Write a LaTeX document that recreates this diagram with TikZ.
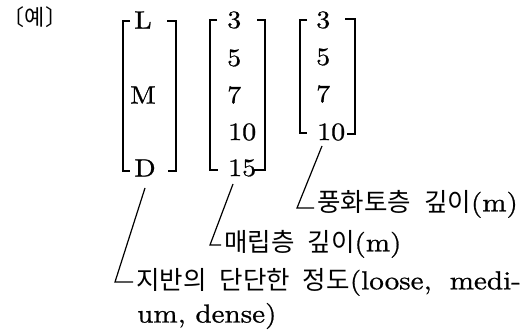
\documentclass[tikz,border=0pt]{standalone}
\usepackage{fontspec}
\newfontfamily\kr{Noto Sans CJK KR}
\newfontfamily\latwide{lmroman10-regular.otf}[FakeStretch=1.12,FakeBold=0.8]
\newcommand\lat{\latwide\fontsize{25}{30}\selectfont}
\newcommand\latl{\latwide\fontsize{26}{30}\selectfont}
\newcommand\krt{\kr\fontsize{25.5}{28}\selectfont}
\newcommand\ks{\hspace{13pt}}
\begin{document}
\begin{tikzpicture}[x=1pt,y=-1pt,
  br/.style={line width=1.4pt},
  ptr/.style={line width=1.2pt},
  letr/.style={inner sep=0pt,font=\lat},
  num/.style={inner sep=0pt,anchor=west,font=\lat},
  lab/.style={inner xsep=3pt,inner ysep=0pt,anchor=west}]
\useasboundingbox (0,0) rectangle (522,331);
% heading
\node[inner sep=0pt] (ex) at (35,17) {\kr\fontsize{22}{23}\selectfont 〔예〕};
% group 1
\node[letr] (gL) at (143,20) {L};
\node[letr] (gM) at (143,95) {M};
\node[letr] (gD) at (145,168) {D};
\draw[br] (130,21) -- (123,21) -- (123,171) -- (130,171);
\draw[br] (167,21) -- (176,21) -- (176,171) -- (168,171);
% group 2
\node[num] (b3) at (227,20) {3};
\node[num] (b5) at (227,58) {5};
\node[num] (b7) at (227,95) {7};
\node[num] (b10) at (228,132) {10};
\node[num] (b15) at (228,168) {15};
\draw[br] (217,20) -- (210,20) -- (210,170) -- (218,170);
\draw[br] (257,20) -- (265,20) -- (265,170) -- (254,170);
% group 3
\node[num] (c3) at (316,20) {3};
\node[num] (c5) at (316,57) {5};
\node[num] (c7) at (316,94) {7};
\node[num] (c10) at (317,132) {10};
\draw[br] (307,20) -- (300,20) -- (300,133) -- (307,133);
\draw[br] (345,19) -- (355,19) -- (355,134) -- (347,134);
% labels
\node[lab] (t3) at (314,204) {{\krt 풍화토층\ks 깊이}{\latl (m)}};
\node[lab] (t2) at (221,244) {{\krt 매립층\ks 깊이}{\latl (m)}};
\node[lab] (t1) at (133,282) {{\krt 지반의\ks 단단한\ks 정도}{\latl (loose,\hspace{18pt}medi-}};
\node[inner sep=0pt,anchor=west] (t1b) at (137,316) {\latl um, dense)};
% pointers
\coordinate (p3s) at (322,146);
\coordinate (p3c) at (297,208);
\coordinate (p2s) at (233,184);
\coordinate (p2c) at (210,245);
\coordinate (p1s) at (145,188);
\coordinate (p1c) at (115,282);
\draw[ptr] (p3s) -- (p3c) -- (p3c -| t3.west);
\draw[ptr] (p2s) -- (p2c) -- (p2c -| t2.west);
\draw[ptr] (p1s) -- (p1c) -- (p1c -| t1.west);
\end{tikzpicture}
\end{document}
